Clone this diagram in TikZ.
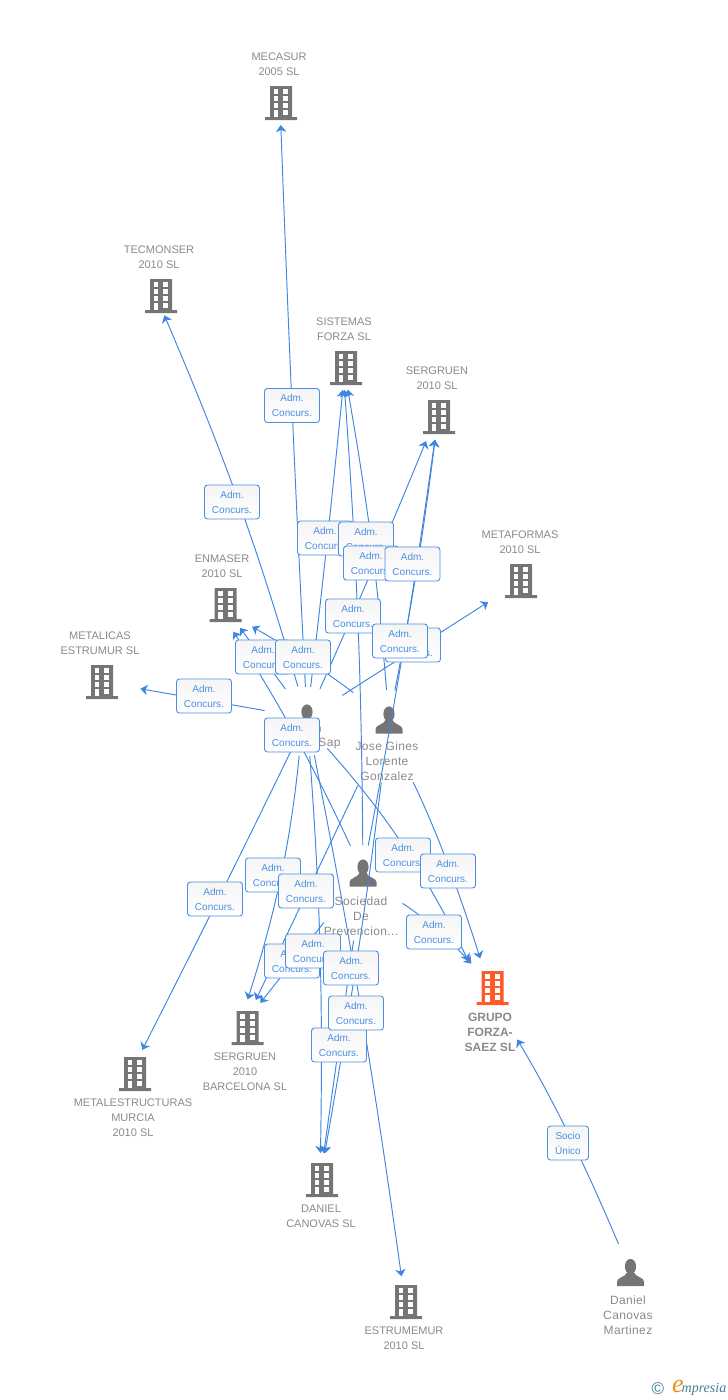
\documentclass[tikz,border=0pt]{standalone}
\usepackage{fontspec}
\setmainfont{Liberation Sans}
\newfontfamily\logofont{Liberation Serif}
\newfontfamily\personfont[LetterSpace=3]{Liberation Sans}
\usetikzlibrary{arrows.meta}
\definecolor{linkblue}{HTML}{3F86E0}
\definecolor{boxblue}{HTML}{4A8FE3}
\definecolor{icongrey}{HTML}{757575}
\definecolor{txtgrey}{HTML}{8A8A8A}
\definecolor{mainred}{HTML}{FF5A2B}
\definecolor{logoteal}{HTML}{3E7F96}
\definecolor{logoorange}{HTML}{F28A1E}
\tikzset{
  firm/.style={inner sep=0pt, minimum width=32pt, minimum height=34pt, path picture={
    \begin{scope}[shift={(path picture bounding box.center)}]
    \fill[#1] (-11,-17) rectangle (11,14) (-16,14) rectangle (16,17);
    \foreach \wy in {-14,-7,0} {
      \fill[white] (-7.5,\wy) rectangle (-2.8,\wy+4.7);
      \fill[white] (2.2,\wy) rectangle (7,\wy+4.7);
    }
    \fill[white] (-7.5,7) rectangle (-2.8,14);
    \fill[white] (2.2,7) rectangle (7,12);
    \end{scope}}},
  firm/.default=icongrey,
  person/.style={inner sep=0pt, minimum size=28pt, path picture={
    \begin{scope}[shift={(path picture bounding box.center)}]
    \fill[icongrey] (0,-6) ellipse (5.6 and 7.6);
    \fill[icongrey] (-13.5,13.5) -- (-13.5,9) .. controls (-13.5,5) and (-5,4.5) .. (-3.5,0)
      -- (3.5,0) .. controls (5,4.5) and (13.5,5) .. (13.5,9) -- (13.5,13.5) -- cycle;
    \end{scope}}},
  firmtxt/.style={inner sep=0pt, align=center, text=txtgrey, font=\fontsize{11}{15}\selectfont},
  persontxt/.style={inner sep=0pt, align=center, text=txtgrey, font=\personfont\fontsize{12}{15}\selectfont},
  adm/.style={draw=boxblue, line width=0.9pt, rounded corners=3pt, top color=black!4, bottom color=white,
    minimum width=55pt, minimum height=34pt, inner sep=0pt, align=center, text=boxblue,
    font=\fontsize{10}{15}\selectfont},
  link/.style={draw=linkblue, line width=0.95pt, -{Stealth[length=7pt, width=10.5pt, inset=2pt]}},
}
\begin{document}
\begin{tikzpicture}[x=1pt, y=-1pt]
\useasboundingbox (0,0) rectangle (728,1400);

% companies
\node[firm] (mecasur) at (281,103) {};
\node[firm] (tecmonser) at (161,296) {};
\node[firm] (sistemas) at (346,368) {};
\node[firm] (sergruen) at (439,417) {};
\node[firm] (metaformas) at (521,581) {};
\node[firm] (enmaser) at (225.5,605) {};
\node[firm] (metalicas) at (102,682) {};
\node[firm=mainred] (grupo) at (492.5,988) {};
\node[firm] (barcelona) at (247.5,1028) {};
\node[firm] (murcia) at (135,1074) {};
\node[firm] (daniel) at (322,1180) {};
\node[firm] (estrumemur) at (406,1302) {};

\node[firmtxt] (mecasurtxt) at (279,64.5) {MECASUR\\2005 SL};
\node[firmtxt] (tecmonsertxt) at (159,257.5) {TECMONSER\\2010 SL};
\node[firmtxt] (sistemastxt) at (344,329.5) {SISTEMAS\\FORZA SL};
\node[firmtxt] (sergruentxt) at (437,378.5) {SERGRUEN\\2010 SL};
\node[firmtxt] (metaformastxt) at (520,542.5) {METAFORMAS\\2010 SL};
\node[firmtxt] (enmasertxt) at (222,566.5) {ENMASER\\2010 SL};
\node[firmtxt] (metalicastxt) at (100,643.5) {METALICAS\\ESTRUMUR SL};
\node[firmtxt, font=\fontsize{12}{15}\selectfont\bfseries] (grupotxt) at (490,1032) {GRUPO\\FORZA-\\SAEZ SL};
\node[firmtxt] (barcelonatxt) at (245,1072) {SERGRUEN\\2010\\BARCELONA SL};
\node[firmtxt] (murciatxt) at (133,1118) {METALESTRUCTURAS\\MURCIA\\2010 SL};
\node[firmtxt] (danieltxt) at (321,1216.5) {DANIEL\\CANOVAS SL};
\node[firmtxt] (estrumemurtxt) at (404,1338.5) {ESTRUMEMUR\\2010 SL};

% people
\node[person] (sap) at (307,718) {};
\node[person] (jose) at (389,720) {};
\node[person] (sociedad) at (363,873) {};
\node[person] (canovas) at (630.5,1272.5) {};

\node[persontxt] (saptxt) at (329.5,744) {Sap};
\node[persontxt] (josetxt) at (387,761) {Jose Gines\\Lorente\\Gonzalez};
\node[persontxt] (sociedadtxt) at (361,916) {Sociedad\\De\\Prevencion...};
\node[persontxt] (canovastxt) at (628,1315) {Daniel\\Canovas\\Martinez};

% links from Sap
\draw[link, shorten <=31pt, shorten >=22pt] (sap.center) to[bend left=0.4] ([xshift=-1pt]mecasur.center);
\draw[link, shorten <=33pt, shorten >=21pt] (sap.center) to[bend right=3.5] ([xshift=-5pt]tecmonser.center);
\draw[link, shorten <=31pt, shorten >=22pt] (sap.center) to[bend right=0.5] ([xshift=-1pt]sistemas.center);
\draw[link, shorten <=32pt, shorten >=26pt] (sap.center) to[bend right=0.8] ([xshift=-3pt]sergruen.center);
\draw[link, shorten <=36pt, shorten >=26pt] (sap.center) -- ([xshift=-1pt, yshift=-2pt]enmaser.center);
\draw[link, shorten <=42pt, shorten >=39pt] (sap.center) -- (metaformas.center);
\draw[link, shorten <=43pt, shorten >=39pt] (sap.center) -- (metalicas.center);
\draw[link, shorten <=38pt, shorten >=27pt] (sap.center) to[bend left=0.5] ([xshift=-5pt]murcia.center);
\draw[link, shorten <=38pt, shorten >=30pt] ([xshift=-4pt]sap.center) to[bend left=6] ([xshift=-9pt]barcelona.center);
\draw[link, shorten <=38pt, shorten >=27pt] (sap.center) to[bend left=2.6] ([xshift=-2pt]daniel.center);
\draw[link, shorten <=38pt, shorten >=26pt] (sap.center) to[bend left=1.6] ([xshift=-1pt]estrumemur.center);
\draw[link, shorten <=41pt, shorten >=30pt] ([xshift=-7pt]sap.center) to[bend left=8] ([xshift=-11pt]grupo.center);

% links from Jose
\draw[link, shorten <=30pt, shorten >=22pt] (jose.center) to[bend right=2.6] ([xshift=-2pt]sistemas.center);
\draw[link, shorten <=30pt, shorten >=23pt] (jose.center) to[bend right=2] ([xshift=-1pt]sergruen.center);
\draw[link, shorten <=45pt, shorten >=34pt] (jose.center) to[bend right=4] ([xshift=-3pt, yshift=-5pt]enmaser.center);
\draw[link, shorten <=73pt, shorten >=31pt] (jose.center) -- ([xshift=-5pt]barcelona.center);
\draw[link, shorten <=63pt, shorten >=27pt] (jose.center) to[bend left=1.5] ([xshift=-2pt]daniel.center);
\draw[link, shorten <=69pt, shorten >=31pt] ([xshift=-6pt]jose.center) to[bend left=4.2] ([xshift=-3pt]grupo.center);

% links from Sociedad
\draw[link, shorten <=30pt, shorten >=28pt] (sociedad.center) to[bend right=3.7] ([xshift=-7pt, yshift=-3pt]enmaser.center);
\draw[link, shorten <=28pt, shorten >=22pt] (sociedad.center) to[bend right=1.8] ([xshift=-3pt]sistemas.center);
\draw[link, shorten <=28pt, shorten >=23pt] (sociedad.center) to[bend right=1.4] ([xshift=-1pt]sergruen.center);
\draw[link, shorten <=63pt, shorten >=32pt] (sociedad.center) -- ([xshift=-7pt]barcelona.center);
\draw[link, shorten <=68pt, shorten >=27pt] (sociedad.center) -- ([xshift=-2pt]daniel.center);
\draw[link, shorten <=50pt, shorten >=33pt] ([xshift=-3pt, yshift=-4pt]sociedad.center) to[bend left=8] ([xshift=1pt]grupo.center);

\draw[link, shorten <=31pt, shorten >=60pt] (canovas.center) to[bend right=4] ([xshift=-6pt]grupo.center);

% labels on the links
\node[adm] (a1) at (292,405.5) {Adm.~\\Concurs.};
\node[adm] (a2) at (232,502) {Adm.~\\Concurs.};
\node[adm] (a3) at (325,538) {Adm.~\\Concurs.};
\node[adm] (a4) at (366,539) {Adm.~\\Concurs.};
\node[adm] (a5) at (371,563) {Adm.~\\Concurs.};
\node[adm] (a6) at (412.5,564) {Adm.~\\Concurs.};
\node[adm] (a7) at (353,616) {Adm.~\\Concurs.};
\node[adm] (a8) at (413,645) {Adm.~\\Concurs.};
\node[adm] (a9) at (400,641) {Adm.~\\Concurs.};
\node[adm] (a10) at (263,657) {Adm.~\\Concurs.};
\node[adm] (a11) at (303,657) {Adm.~\\Concurs.};
\node[adm] (a12) at (204,696) {Adm.~\\Concurs.};
\node[adm] (a13) at (292,735) {Adm.~\\Concurs.};
\node[adm] (a14) at (403,855) {Adm.~\\Concurs.};
\node[adm] (a15) at (448,871) {Adm.~\\Concurs.};
\node[adm] (a16) at (273,875) {Adm.~\\Concurs.};
\node[adm] (a17) at (215,899) {Adm.~\\Concurs.};
\node[adm] (a18) at (306,891) {Adm.~\\Concurs.};
\node[adm] (a19) at (434,932) {Adm.~\\Concurs.};
\node[adm] (a20) at (292,961) {Adm.~\\Concurs.};
\node[adm] (a21) at (313,951) {Adm.~\\Concurs.};
\node[adm] (a22) at (351,968) {Adm.~\\Concurs.};
\node[adm] (a23) at (339,1045) {Adm.~\\Concurs.};
\node[adm] (a24) at (356,1013) {Adm.~\\Concurs.};
\node[adm, minimum width=41pt] (a25) at (568,1143) {Socio\\Único};

% logo
\node[inner sep=0pt, text=logoteal, font=\fontsize{17}{17}\selectfont] (logoc) at (658,1389) {©};
\node[inner sep=0pt, text=logoorange, font=\logofont\itshape\fontsize{26}{26}\selectfont] (logoe) at (678,1386) {e};
\node[inner sep=0pt, text=logoteal, font=\logofont\itshape\fontsize{14}{14}\selectfont] (logotxt) at (704,1389) {mpresia};
\end{tikzpicture}
\end{document}
